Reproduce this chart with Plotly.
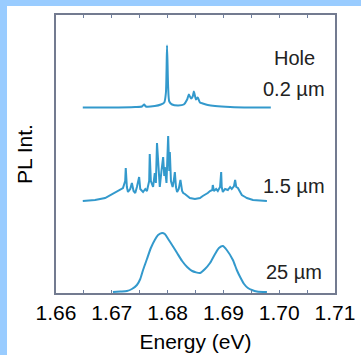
import plotly.graph_objects as go

# ---- data (energy in eV, PL intensity in arbitrary units above each trace's own baseline)
E_02 = [1.6648, 1.6697, 1.6742, 1.6754, 1.6758, 1.6761, 1.6777, 1.6788, 1.6794, 1.6797,
        1.6799, 1.6801, 1.6803, 1.6808, 1.6819, 1.6829, 1.6835, 1.6838, 1.6842, 1.6845,
        1.6847, 1.6851, 1.6854, 1.6858, 1.6863, 1.6872, 1.6885, 1.6912, 1.6948, 1.6985]
I_02 = [0, 0, 0.5, 1, 3, 1, 1.5, 3, 5, 15,
        62, 20, 6, 3, 2, 3, 8, 13, 9, 11,
        16, 8, 10, 5, 4, 2.5, 1.5, 0.5, 0, 0]

E_15 = [1.6648, 1.6670, 1.6688, 1.6697, 1.6706, 1.6715, 1.6720, 1.6724, 1.6725, 1.6727,
        1.6729, 1.6733, 1.6736, 1.6739, 1.6742, 1.6745, 1.6749, 1.6751, 1.6756, 1.6760,
        1.6763, 1.6767, 1.6768, 1.6770, 1.6774, 1.6777, 1.6779, 1.6781, 1.6784, 1.6786,
        1.6789, 1.6792, 1.6794, 1.6795, 1.6798, 1.6801, 1.6803, 1.6804, 1.6806, 1.6809,
        1.6811, 1.6813, 1.6815, 1.6817, 1.6820, 1.6823, 1.6826, 1.6828, 1.6831, 1.6835,
        1.6840, 1.6849, 1.6858, 1.6863, 1.6867, 1.6872, 1.6876, 1.6880, 1.6881, 1.6883,
        1.6887, 1.6890, 1.6894, 1.6896, 1.6897, 1.6899, 1.6903, 1.6908, 1.6912, 1.6915,
        1.6919, 1.6921, 1.6923, 1.6926, 1.6930, 1.6933, 1.6939, 1.6942, 1.6953, 1.6966,
        1.6978]
I_15 = [0, 1, 3, 6, 9, 12, 13, 20, 33, 14,
        9, 12, 18, 10, 8, 14, 24, 12, 9, 12,
        10, 20, 47, 20, 14, 28, 18, 58, 22, 14,
        30, 44, 25, 34, 18, 65, 30, 49, 20, 14,
        20, 29, 14, 9, 12, 21, 10, 8, 7, 5,
        3, 2, 3, 5, 6, 8, 10, 11, 16, 10,
        12, 10, 14, 29, 14, 9, 12, 11, 14, 12,
        15, 21, 14, 13, 9, 6, 4, 3, 1, 0.5,
        0]

E_25 = [1.6702, 1.6715, 1.6727, 1.6736, 1.6745, 1.6751, 1.6756, 1.6763, 1.6770, 1.6777,
        1.6783, 1.6790, 1.6795, 1.6801, 1.6808, 1.6817, 1.6826, 1.6835, 1.6844, 1.6858,
        1.6867, 1.6876, 1.6885, 1.6892, 1.6899, 1.6906, 1.6917, 1.6924, 1.6930, 1.6937,
        1.6944, 1.6951, 1.6960, 1.6978]
I_25 = [0, 0.5, 1, 3, 7, 13, 22, 33, 44, 52,
        57, 59, 58, 53, 47, 39, 31, 25, 21, 19,
        23, 29, 38, 44, 46, 42, 32, 22, 15, 8,
        4, 2, 0.5, 0]

labels = ["0.2 µm", "1.5 µm", "25 µm"]
offsets = [185.5, 92, 1]          # vertical stacking offsets
x_ticks = [1.66, 1.67, 1.68, 1.69, 1.70, 1.71]
x_ticktext = ["1.66", "1.67", "1.68", "1.69", "1.70", "1.71"]

FONT = "Liberation Sans, Arial, Helvetica, sans-serif"
LINE = "#3399cc"

fig = go.Figure()
series = [(E_02, I_02, "spline", 0), (E_15, I_15, "linear", 1), (E_25, I_25, "spline", 2)]
for E, I, shape, k in series:
    fig.add_trace(go.Scatter(
        x=E, y=[v + offsets[k] for v in I], mode="lines",
        line=dict(color=LINE, width=2, shape=shape, smoothing=0.6 if shape == "spline" else None),
        hoverinfo="skip", showlegend=False))

W, H = 361, 355
L, R, T, B = 56, 26, 15, 62
pw, ph = W - L - R, H - T - B

def px_x(p):
    return (p - L) / pw

def px_y(p):
    return (H - B - p) / ph

# light-blue frame bands (top and left), as in the reference image
shapes = [
    dict(type="rect", xref="paper", yref="paper", x0=px_x(0), x1=px_x(7), y0=px_y(H), y1=px_y(0),
         fillcolor="#99ccff", line_width=0, layer="below"),
    dict(type="rect", xref="paper", yref="paper", x0=px_x(0), x1=px_x(W), y0=px_y(6), y1=px_y(0),
         fillcolor="#99ccff", line_width=0, layer="below"),
]

ann_x = 1.7027
annotations = [
    dict(x=ann_x, y=235, text="Hole", showarrow=False, font=dict(family=FONT, size=20, color="#222")),
    dict(x=ann_x, y=offsets[0] + 19, text=labels[0], showarrow=False, font=dict(family=FONT, size=20, color="#222")),
    dict(x=ann_x, y=offsets[1] + 15, text=labels[1], showarrow=False, font=dict(family=FONT, size=20, color="#222")),
    dict(x=ann_x, y=offsets[2] + 20, text=labels[2], showarrow=False, font=dict(family=FONT, size=20, color="#222")),
]

fig.update_layout(
    width=W, height=H,
    margin=dict(l=L, r=R, t=T, b=B, pad=0),
    paper_bgcolor="white", plot_bgcolor="white",
    shapes=shapes, annotations=annotations,
    font=dict(family=FONT, color="black"),
    xaxis=dict(
        range=[1.66, 1.71], tickvals=x_ticks, ticktext=x_ticktext,
        ticks="inside", ticklen=3, tickcolor="#6f7f9f", tickwidth=1,
        minor=dict(dtick=0.005, ticks="inside", ticklen=3, tickcolor="#6f7f9f"),
        showline=True, linecolor="#737b90", linewidth=1.5, mirror="ticks",
        showgrid=False, zeroline=False,
        tickfont=dict(family=FONT, size=21, color="black"),
        ticklabelstandoff=0,
        title=dict(text="Energy (eV)", font=dict(family=FONT, size=21, color="black"), standoff=11),
        automargin=False,
    ),
    yaxis=dict(
        range=[0, 278], showticklabels=False, ticks="",
        showline=True, linecolor="#737b90", linewidth=1.5, mirror=True,
        showgrid=False, zeroline=False,
        title=dict(text="PL Int.", font=dict(family=FONT, size=21, color="black"), standoff=16),
        automargin=False,
    ),
)

fig.write_html("out.html", config={"displayModeBar": False},
               post_script="document.body.style.margin='0';document.body.style.overflow='hidden';")
